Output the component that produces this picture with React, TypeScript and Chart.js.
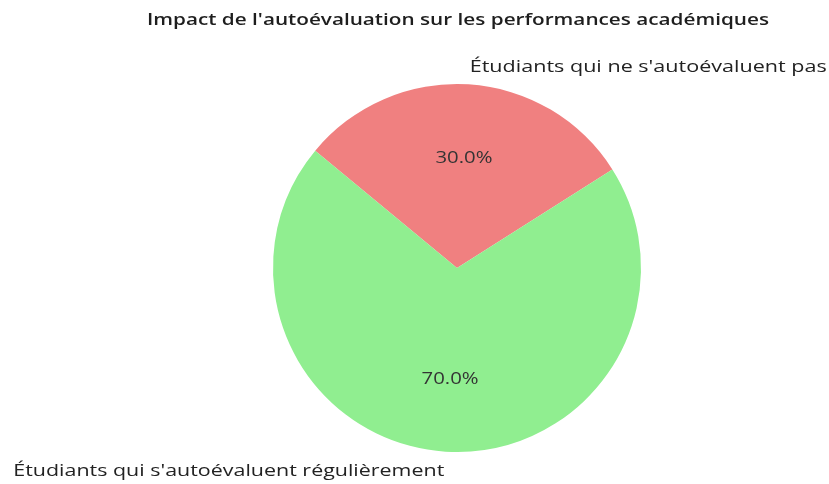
import React, { useEffect, useRef } from "react";
import { Chart, registerables } from "chart.js";

Chart.register(...registerables);

const title = "Impact de l'autoévaluation sur les performances académiques";
const categories = ["Étudiants qui ne s'autoévaluent pas", "Étudiants qui s'autoévaluent régulièrement"];
const values = [30, 70];
const colors = ["#F08080", "#90EE90"];

const FONT = "'Open Sans', sans-serif";

// draw text stretched horizontally to a target width (mimics the wider reference typeface)
function drawFitted(ctx: CanvasRenderingContext2D, text: string, x: number, y: number, width: number, align: "left" | "right" | "center") {
  const w = ctx.measureText(text).width;
  const s = width / w;
  ctx.save();
  ctx.translate(x, y);
  ctx.scale(s, 1);
  ctx.textAlign = align;
  ctx.fillText(text, 0, 0);
  ctx.restore();
}

const labelWidths = [357, 431];
const pctWidth = 57;

const labelPlugin = {
  id: "pieLabels",
  afterDraw(chart: any) {
    const ctx = chart.ctx;
    const meta = chart.getDatasetMeta(0);
    const total = values.reduce((a, b) => a + b, 0);
    ctx.save();
    ctx.textBaseline = "middle";
    // title
    ctx.fillStyle = "#1e1e1e";
    ctx.font = `600 16px ${FONT}`;
    drawFitted(ctx, title, 458, 20, 622, "center");
    meta.data.forEach((arc: any, i: number) => {
      const { x, y, startAngle, endAngle, outerRadius } = arc.getProps(
        ["x", "y", "startAngle", "endAngle", "outerRadius"],
        true
      );
      const mid = (startAngle + endAngle) / 2;
      const cx = Math.cos(mid);
      const cy = Math.sin(mid);
      ctx.font = `17px ${FONT}`;
      ctx.fillStyle = "#222";
      drawFitted(ctx, categories[i], x + cx * outerRadius * 1.1, y + cy * outerRadius * 1.1 + 1, labelWidths[i], cx >= 0 ? "left" : "right");
      ctx.font = `16px ${FONT}`;
      ctx.fillStyle = "#333";
      const pct = ((values[i] / total) * 100).toFixed(1) + "%";
      drawFitted(ctx, pct, x + cx * outerRadius * 0.6, y + cy * outerRadius * 0.6 + 1, pctWidth, "center");
    });
    ctx.restore();
  },
};

export default function App() {
  const ref = useRef<HTMLCanvasElement>(null);
  useEffect(() => {
    const chart = new Chart(ref.current as HTMLCanvasElement, {
      type: "pie",
      data: {
        labels: categories,
        datasets: [
          {
            data: values,
            backgroundColor: colors,
            borderWidth: 0,
          },
        ],
      },
      options: {
        animation: false,
        responsive: false,
        rotation: -50.4,
        layout: { padding: { top: 84, bottom: 32, left: 273, right: 188 } },
        plugins: {
          legend: { display: false },
          tooltip: { enabled: false },
          title: { display: false },
        },
      },
      plugins: [labelPlugin],
    });
    return () => chart.destroy();
  }, []);
  return (
    <div style={{ position: "fixed", left: 0, top: 0, width: 829, height: 484, background: "#fff" }}>
      <canvas ref={ref} width={829} height={484} style={{ display: "block" }} />
    </div>
  );
}
